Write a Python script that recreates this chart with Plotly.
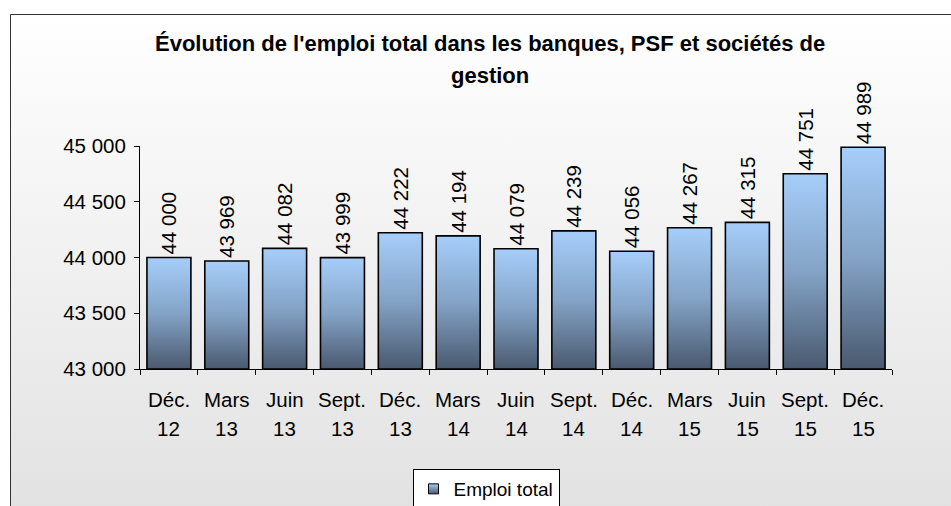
import plotly.graph_objects as go

# ---- data ----
months = ["Déc.", "Mars", "Juin", "Sept.", "Déc.", "Mars", "Juin", "Sept.", "Déc.", "Mars", "Juin", "Sept.", "Déc."]
years = ["12", "13", "13", "13", "13", "14", "14", "14", "14", "15", "15", "15", "15"]
values = [44000, 43969, 44082, 43999, 44222, 44194, 44079, 44239, 44056, 44267, 44315, 44751, 44989]
y_ticks = [43000, 43500, 44000, 44500, 45000]
series_name = "Emploi total"
title_lines = ["Évolution de l'emploi total dans les banques, PSF et sociétés de", "gestion"]

# ---- style ----
W, H = 951, 506
FONT = "Liberation Sans, Arial, sans-serif"
FS = 20.5
BAR_W = 0.76
Y_MIN, Y_MAX = y_ticks[0], y_ticks[-1]
bar_scale = [[0, "#4a596f"], [0.5, "#84a3c6"], [1, "#a6cefa"]]

def px_x(p):
    return p / W

def px_y(p):
    return 1 - p / H

fig = go.Figure()

# background gradient (pixel-space helper axes)
fig.add_trace(go.Scatter(
    x=[10.5, W + 5, W + 5, 10.5, 10.5], y=[14.5, 14.5, H + 5, H + 5, 14.5],
    xaxis="x", yaxis="y", mode="lines", line=dict(width=0),
    fill="toself", fillgradient=dict(type="vertical", colorscale=[[0, "#e2e2e2"], [1, "#ffffff"]]),
    hoverinfo="skip", showlegend=False))

n = len(values)
idx = list(range(n))

# transparent bars carry the value labels
fig.add_trace(go.Bar(
    x=idx, y=[v - Y_MIN for v in values], base=Y_MIN, width=BAR_W,
    xaxis="x2", yaxis="y2",
    marker=dict(color="rgba(0,0,0,0)", line=dict(width=0)),
    text=[f"{v:,}".replace(",", " ") for v in values],
    textposition="outside", textangle=-90, constraintext="none", cliponaxis=False,
    textfont=dict(family=FONT, size=FS, color="black"),
    showlegend=False, hoverinfo="skip"))

# gradient-filled bars
for i, v in zip(idx, values):
    x0, x1 = i - BAR_W / 2, i + BAR_W / 2
    fig.add_trace(go.Scatter(
        x=[x0, x1, x1, x0, x0], y=[Y_MIN, Y_MIN, v, v, Y_MIN],
        xaxis="x2", yaxis="y2", mode="lines",
        line=dict(color="black", width=1.6),
        fill="toself", fillgradient=dict(type="vertical", colorscale=bar_scale),
        showlegend=False, hovertemplate=f"{months[i]} {years[i]}: %{{y}}<extra></extra>"))

# legend entry
fig.add_trace(go.Scatter(
    x=[None], y=[None], xaxis="x2", yaxis="y2", mode="markers", name=series_name,
    marker=dict(symbol="square", size=10, color="#a6cefa",
                gradient=dict(type="vertical", color="#4a596f"),
                line=dict(color="black", width=1))))

annotations = []
for i in idx:
    annotations.append(dict(x=i, y=px_y(399), xref="x2", yref="paper", text=months[i],
                            showarrow=False, xanchor="center", yanchor="middle",
                            font=dict(family=FONT, size=FS, color="black")))
    annotations.append(dict(x=i, y=px_y(428), xref="x2", yref="paper", text=years[i],
                            showarrow=False, xanchor="center", yanchor="middle",
                            font=dict(family=FONT, size=FS, color="black")))
for line, yp in zip(title_lines, [44, 75]):
    annotations.append(dict(x=px_x(489.5), y=px_y(yp), xref="paper", yref="paper", text=f"<b>{line}</b>",
                            showarrow=False, xanchor="center", yanchor="middle",
                            font=dict(family=FONT, size=22, color="black")))

fig.update_layout(
    width=W, height=H,
    margin=dict(l=0, r=0, t=0, b=0, autoexpand=False),
    paper_bgcolor="white", plot_bgcolor="rgba(0,0,0,0)",
    separators=", ",
    font=dict(family=FONT, size=FS, color="black"),
    xaxis=dict(domain=[0, 1], range=[0, W], visible=False, fixedrange=True),
    yaxis=dict(domain=[0, 1], range=[H, 0], visible=False, fixedrange=True),
    xaxis2=dict(domain=[px_x(140), px_x(892)], anchor="y2", range=[-0.5, n - 0.5],
                tickmode="array", tickvals=[i - 0.5 for i in range(n + 1)],
                showticklabels=False, ticks="outside", ticklen=5, tickcolor="black",
                showline=True, linecolor="black", linewidth=1, showgrid=False, zeroline=False),
    yaxis2=dict(domain=[px_y(369), px_y(146)], anchor="x2", range=[Y_MIN, Y_MAX],
                tickmode="array", tickvals=y_ticks, tickformat=",d",
                ticks="outside", ticklen=5, tickcolor="black", ticklabelstandoff=4,
                tickfont=dict(family=FONT, size=FS, color="black"),
                showline=True, linecolor="black", linewidth=1, showgrid=False, zeroline=False),
    showlegend=True,
    legend=dict(x=px_x(486), xanchor="center", y=px_y(469), yanchor="top",
                bgcolor="white", bordercolor="black", borderwidth=1,
                font=dict(family=FONT, size=19, color="black")),
    annotations=annotations,
    shapes=[dict(type="rect", xref="paper", yref="paper",
                 x0=px_x(10.5), x1=1.05, y0=-0.05, y1=px_y(14.5),
                 line=dict(color="#333333", width=1), fillcolor="rgba(0,0,0,0)", layer="above")],
)

fig.write_html("out.html",
               config={"displayModeBar": False},
               post_script="document.documentElement.style.margin='0';"
                           "document.body.style.margin='0';document.body.style.overflow='hidden';")
